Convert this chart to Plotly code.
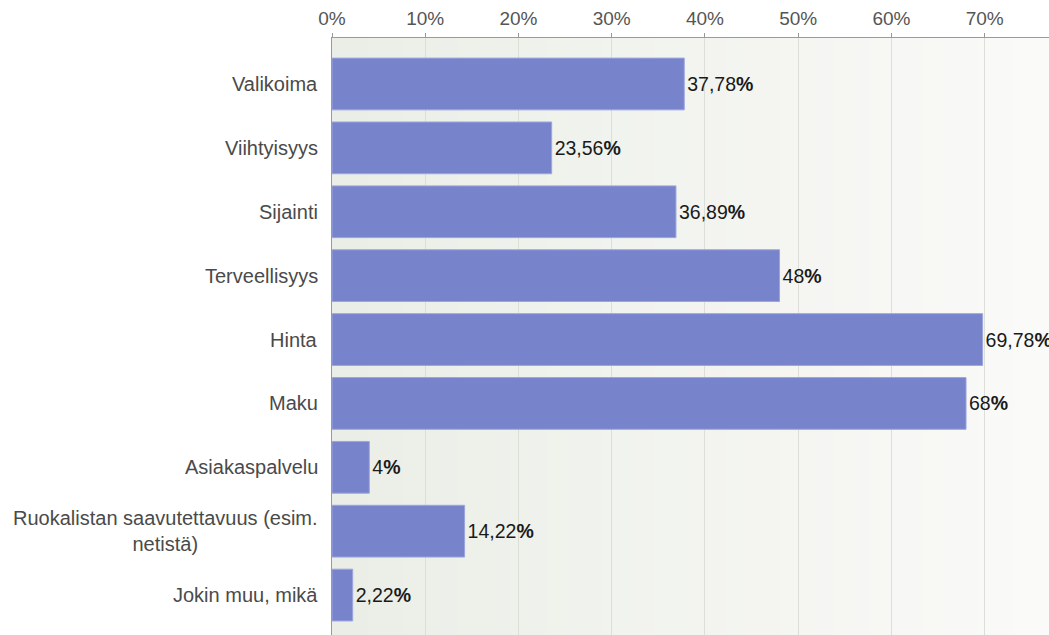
import plotly.graph_objects as go

# Survey answers: share of respondents choosing each factor
categories = [
    "Valikoima",
    "Viihtyisyys",
    "Sijainti",
    "Terveellisyys",
    "Hinta",
    "Maku",
    "Asiakaspalvelu",
    "Ruokalistan saavutettavuus (esim.<br>netistä)",
    "Jokin muu, mikä",
]
values = [37.78, 23.56, 36.89, 48, 69.78, 68, 4, 14.22, 2.22]
tick_values = [0, 10, 20, 30, 40, 50, 60, 70]
tick_labels = [f"{t}%" for t in tick_values]

positions = list(range(len(categories)))
value_text = [f"{v:g}".replace(".", ",") + "<b>%</b>" for v in values]

FONT = "Liberation Sans, Arial, sans-serif"

fig = go.Figure()
fig.add_trace(go.Bar(
    x=values,
    y=positions,
    orientation="h",
    width=0.81,
    marker=dict(color="#7783cb", line=dict(color="#9ca5de", width=1)),
    text=value_text,
    textposition="outside",
    textfont=dict(family=FONT, size=19.5, color="#1a1a1a"),
    cliponaxis=False,
    hoverinfo="skip",
))

# Soft horizontal background gradient behind the plot area
shapes = []
n_strips = 40
left_rgb = (235, 238, 231)
right_rgb = (250, 250, 248)
for i in range(n_strips):
    t = i / (n_strips - 1)
    r, g, b = (round(a + (c - a) * t) for a, c in zip(left_rgb, right_rgb))
    shapes.append(dict(
        type="rect", xref="paper", yref="paper", layer="below",
        x0=i / n_strips, x1=(i + 1) / n_strips + 0.002, y0=0, y1=1,
        line=dict(width=0), fillcolor=f"rgb({r},{g},{b})",
    ))

# Category labels, centred line-by-line and right-anchored at the axis
annotations = [
    dict(
        x=0, xref="paper", y=p, yref="y", text=c, showarrow=False,
        xanchor="right", xshift=-12, align="center",
        font=dict(family=FONT, size=20, color="#4a4a4a"),
    )
    for p, c in zip(positions, categories)
]

fig.update_layout(
    width=1049, height=635,
    margin=dict(l=332, r=0, t=38, b=0),
    paper_bgcolor="white",
    plot_bgcolor="rgba(0,0,0,0)",
    showlegend=False,
    shapes=shapes,
    annotations=annotations,
    font=dict(family=FONT),
    xaxis=dict(
        side="top",
        range=[0, 76.9],
        tickvals=tick_values,
        ticktext=tick_labels,
        tickfont=dict(family=FONT, size=19, color="#555555"),
        ticks="outside", ticklen=4, tickcolor="#999999",
        showgrid=True, gridcolor="#dcdfd8", gridwidth=1,
        showline=True, linecolor="#9a9a9a", linewidth=1,
        zeroline=False, fixedrange=True,
    ),
    yaxis=dict(
        range=[8.625, -0.72],
        showticklabels=False, ticks="",
        showgrid=False, zeroline=False,
        showline=True, linecolor="#9a9a9a", linewidth=1,
        fixedrange=True,
    ),
)

fig.write_html("out.html")
